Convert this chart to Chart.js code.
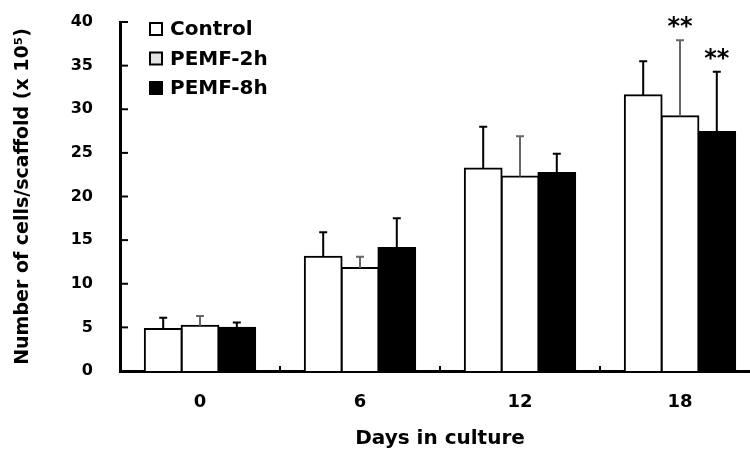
<!DOCTYPE html>
<html>
<head>
<meta charset="utf-8">
<script src="https://cdn.jsdelivr.net/npm/chart.js@4.4.1/dist/chart.umd.min.js"></script>
<style>
  html, body { margin: 0; padding: 0; background: #fff; overflow: hidden; }
  #wrap { width: 765px; height: 453px; }
</style>
</head>
<body>
<div id="wrap"><canvas id="chart-cells" width="765" height="453"></canvas></div>
<script>
// values (x 10^5 cells per scaffold)
const days = ['0', '6', '12', '18'];
const seriesNames = ['Control', 'PEMF-2h', 'PEMF-8h'];
const control = [4.8, 13.1, 23.2, 31.6];
const controlErr = [1.3, 2.8, 4.8, 3.9];
const pemf2h = [5.2, 11.8, 22.3, 29.2];
const pemf2hErr = [1.1, 1.3, 4.6, 8.7];
const pemf8h = [4.95, 14.1, 22.7, 27.4];
const pemf8hErr = [0.6, 3.4, 2.2, 6.9];
const yTicks = [0, 5, 10, 15, 20, 25, 30, 35, 40];
// significance marks: [series index, day index, text]
const sigMarks = [[1, 3, '**'], [2, 3, '**']];

const errors = [controlErr, pemf2hErr, pemf8hErr];
const errColors = ['#000', '#666', '#000'];
const fills = ['#ffffff', '#ffffff', '#000000'];
const legendFills = ['#ffffff', '#e4e4e4', '#000000'];
const FONT = '"DejaVu Sans", "Liberation Sans", Arial, sans-serif';

// error bars, inward axis ticks, legend and stars
const extras = {
  id: 'extras',
  afterDatasetsDraw(chart) {
    const ctx = chart.ctx;
    const area = chart.chartArea;
    const xs = chart.scales.x;
    const ys = chart.scales.y;
    ctx.save();

    // error bars
    chart.data.datasets.forEach((ds, di) => {
      const meta = chart.getDatasetMeta(di);
      meta.data.forEach((bar, i) => {
        const top = ys.getPixelForValue(ds.data[i] + errors[di][i]);
        ctx.strokeStyle = errColors[di];
        ctx.lineWidth = 2;
        ctx.beginPath();
        ctx.moveTo(bar.x, bar.y);
        ctx.lineTo(bar.x, top);
        ctx.moveTo(bar.x - 4, top);
        ctx.lineTo(bar.x + 4, top);
        ctx.stroke();
      });
    });

    // y ticks pointing into the plot
    ctx.strokeStyle = '#000';
    ctx.lineWidth = 2;
    yTicks.forEach(v => {
      const y = ys.getPixelForValue(v);
      ctx.beginPath();
      ctx.moveTo(area.left, y);
      ctx.lineTo(area.left + 8, y);
      ctx.stroke();
    });

    // x ticks between categories
    for (let i = 0; i < days.length - 1; i++) {
      const x = (xs.getPixelForValue(i) + xs.getPixelForValue(i + 1)) / 2;
      ctx.beginPath();
      ctx.moveTo(x, area.bottom);
      ctx.lineTo(x, area.bottom - 5);
      ctx.stroke();
    }

    // legend
    ctx.font = 'bold 20px ' + FONT;
    ctx.textBaseline = 'middle';
    ctx.textAlign = 'left';
    seriesNames.forEach((name, i) => {
      const cy = 29 + i * 29.5;
      ctx.fillStyle = legendFills[i];
      ctx.fillRect(150, cy - 6, 12, 12);
      ctx.strokeStyle = '#000';
      ctx.lineWidth = 2;
      ctx.strokeRect(150, cy - 6, 12, 12);
      ctx.fillStyle = '#000';
      ctx.fillText(name, 170, cy + 1);
    });

    // significance stars
    ctx.font = 'bold 24px ' + FONT;
    ctx.textAlign = 'center';
    ctx.textBaseline = 'alphabetic';
    sigMarks.forEach(([di, i, text]) => {
      const bar = chart.getDatasetMeta(di).data[i];
      const v = chart.data.datasets[di].data[i] + errors[di][i];
      const cy = ys.getPixelForValue(v) - 20;
      ctx.fillText(text, bar.x, cy + 14);
    });

    ctx.restore();
  }
};

const chartCells = document.getElementById('chart-cells').getContext('2d');

const chartCellsInstance = new Chart(chartCells, {
  type: 'bar',
  data: {
    labels: days,
    datasets: [control, pemf2h, pemf8h].map((vals, i) => ({
      label: seriesNames[i],
      data: vals,
      backgroundColor: fills[i],
      borderColor: '#000',
      borderWidth: 2,
      borderSkipped: 'bottom',
      inflateAmount: 1,
      categoryPercentage: 0.69,
      barPercentage: 1.0
    }))
  },
  options: {
    responsive: false,
    animation: false,
    layout: { padding: { top: 22, left: 0, right: 5, bottom: 0 } },
    plugins: {
      legend: { display: false },
      tooltip: { enabled: false }
    },
    scales: {
      x: {
        grid: { display: false, drawTicks: false },
        border: { display: true, color: '#000', width: 3 },
        ticks: {
          color: '#000',
          padding: 21,
          font: { family: FONT, size: 18, weight: 'bold' }
        },
        title: {
          display: true,
          text: 'Days in culture',
          color: '#000',
          padding: { top: 0, bottom: 2 },
          font: { family: FONT, size: 20, weight: 'bold' }
        },
        afterFit: scale => { scale.height = 82; }
      },
      y: {
        min: 0,
        max: 40,
        grid: { display: false, drawTicks: false },
        border: { display: true, color: '#000', width: 3 },
        ticks: {
          stepSize: 5,
          color: '#000',
          padding: 27,
          font: { family: FONT, size: 16, weight: 'bold' }
        },
        title: {
          display: true,
          text: 'Number of cells/scaffold (x 10\u2075)',
          color: '#000',
          padding: { top: 12, bottom: 0 },
          font: { family: FONT, size: 19, weight: 'bold' }
        },
        afterFit: scale => {
          scale.width = 120;
          scale.paddingTop = 0;
          scale.paddingBottom = 0;
        }
      }
    }
  },
  plugins: [extras]
});
</script>
</body>
</html>
